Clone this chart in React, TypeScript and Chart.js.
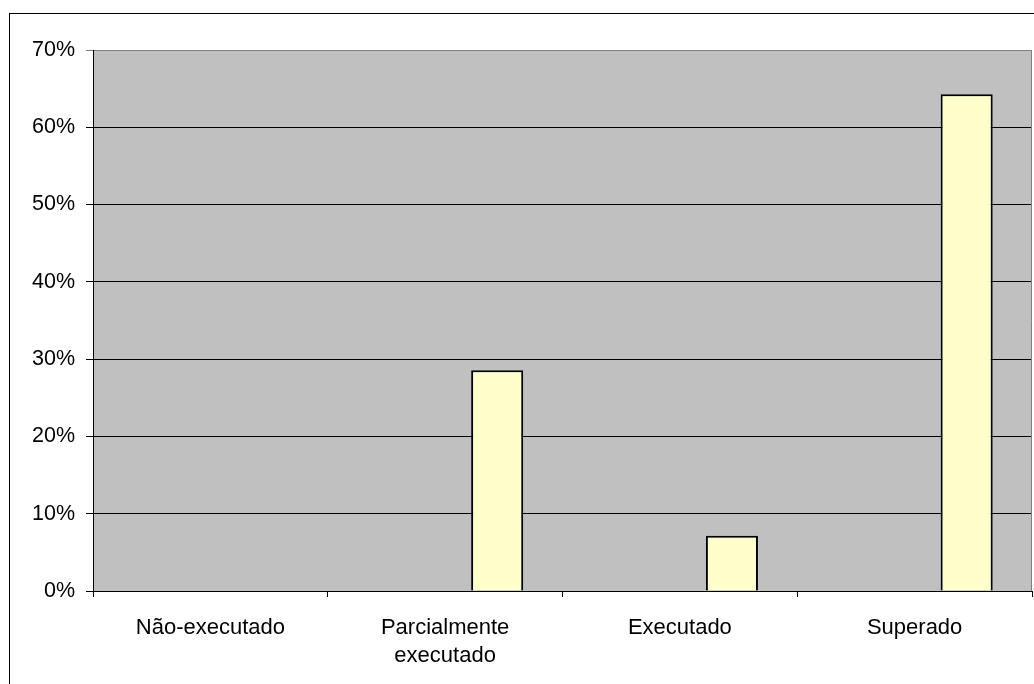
import React, { useEffect, useRef } from "react";
import { Chart, registerables } from "chart.js";

Chart.register(...registerables);

// Categories, shown under the x axis
const categories: (string | string[])[] = [
  "Não-executado",
  ["Parcialmente", "executado"],
  "Executado",
  "Superado",
];

// Share of items per category (percent); the first two series are empty slots
const emptySeriesA: (number | null)[] = [null, null, null, null];
const emptySeriesB: (number | null)[] = [null, null, null, null];
const shareValues: number[] = [0, 28.57, 7.14, 64.29];

// Y axis: 0% .. 70% in steps of 10
const yMin = 0;
const yMax = 70;
const yStep = 10;

const FONT = "'Liberation Sans', Arial, Helvetica, sans-serif";

const plotBackground = {
  id: "plotBackground",
  beforeDraw(chart: Chart) {
    const { ctx, chartArea } = chart;
    ctx.save();
    // outer frame of the chart object
    ctx.strokeStyle = "#000";
    ctx.lineWidth = 1;
    ctx.strokeRect(9.5, 13.5, 1100, 800);
    // grey plot area
    ctx.fillStyle = "#C0C0C0";
    ctx.fillRect(chartArea.left, chartArea.top, chartArea.right - chartArea.left, chartArea.bottom - chartArea.top);
    ctx.restore();
  },
  beforeDatasetsDraw(chart: Chart) {
    const { ctx, chartArea } = chart;
    ctx.save();
    ctx.strokeStyle = "#808080";
    ctx.lineWidth = 1;
    const x = Math.round(chartArea.right) - 0.5;
    ctx.beginPath();
    ctx.moveTo(x, chartArea.top);
    ctx.lineTo(x, chartArea.bottom);
    ctx.stroke();
    ctx.restore();
  },
};

export default function App() {
  const canvasRef = useRef<HTMLCanvasElement>(null);

  useEffect(() => {
    if (!canvasRef.current) return;
    const chart = new Chart(canvasRef.current, {
      type: "bar",
      data: {
        labels: categories,
        datasets: [
          { data: emptySeriesA, backgroundColor: "#FFFFCC", borderColor: "#000", borderWidth: 2 },
          { data: emptySeriesB, backgroundColor: "#FFFFCC", borderColor: "#000", borderWidth: 2 },
          { data: shareValues, backgroundColor: "#FFFFCC", borderColor: "#000", borderWidth: 2 },
        ],
      },
      options: {
        responsive: false,
        maintainAspectRatio: false,
        animation: false,
        datasets: {
          bar: { categoryPercentage: 0.6652, barPercentage: 1.0 },
        },
        layout: { padding: { left: 0, top: 50, right: 2, bottom: 0 } },
        plugins: {
          legend: { display: false },
          tooltip: { enabled: false },
        },
        scales: {
          x: {
            offset: true,
            afterFit(scale: any) {
              scale.height = 93;
            },
            border: { display: true, color: "#000", width: 1 },
            grid: {
              offset: true,
              drawOnChartArea: false,
              drawTicks: true,
              tickLength: 6,
              color: "#000",
            },
            ticks: {
              color: "#000",
              padding: 17,
              maxRotation: 0,
              autoSkip: false,
              font: { family: FONT, size: 22, lineHeight: 1.27 },
            },
          },
          y: {
            min: yMin,
            max: yMax,
            afterFit(scale: any) {
              scale.width = 93;
            },
            border: { display: true, color: "#000", width: 1 },
            grid: {
              drawTicks: true,
              tickLength: 7,
              color: (ctx: any) => (ctx.tick && ctx.tick.value === yMax ? "#808080" : "#000"),
            },
            ticks: {
              stepSize: yStep,
              color: "#000",
              padding: 11,
              font: { family: FONT, size: 21.5 },
              callback: (v: any) => `${Math.round(Number(v))}%`,
            },
          },
        },
      },
      plugins: [plotBackground],
    });
    return () => chart.destroy();
  }, []);

  return (
    <div style={{ position: "absolute", left: 0, top: 0, width: 1034, height: 684, background: "#fff" }}>
      <canvas ref={canvasRef} width={1034} height={684} style={{ display: "block" }} />
    </div>
  );
}
